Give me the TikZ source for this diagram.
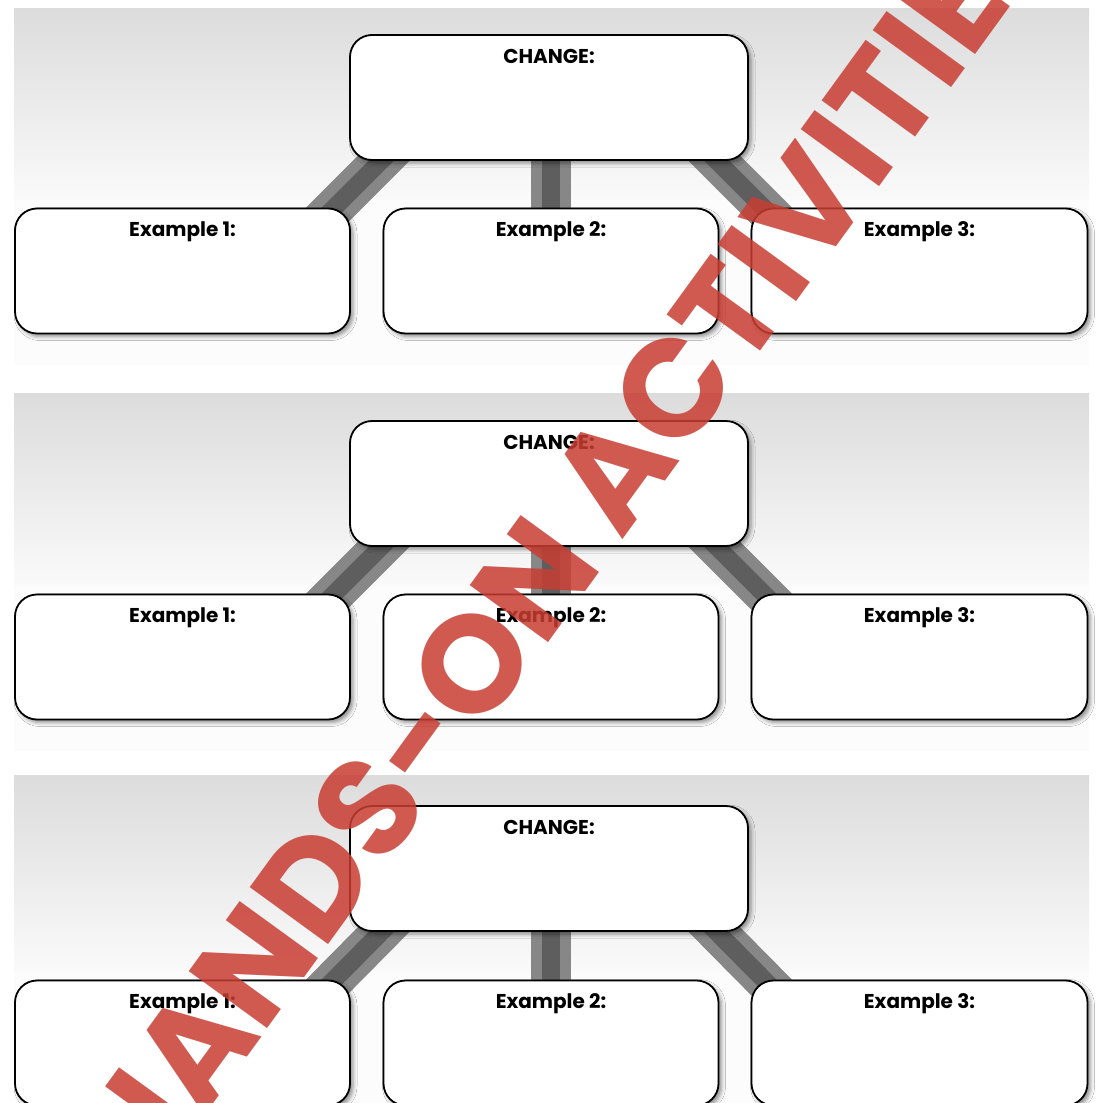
\documentclass[tikz,border=0pt]{standalone}
\usepackage{fontspec}
\setmainfont{Poppins}
\usetikzlibrary{shadows.blur,calc}
\definecolor{bgtop}{HTML}{DCDCDC}
\definecolor{bgbot}{HTML}{FAFAFA}
\definecolor{bglow}{HTML}{FCFCFC}
\definecolor{connlight}{HTML}{878787}
\definecolor{conndark}{HTML}{5E5E5E}
\definecolor{wmred}{RGB}{200,60,50}
\tikzset{
  box/.style={draw=black, line width=1.8pt, fill=white, rounded corners=22pt,
    inner xsep=0pt, inner ysep=0pt, text height=28pt, text depth=97pt,
    minimum height=125pt, font=\bfseries\fontsize{20}{20}\selectfont,
    blur shadow={shadow xshift=3pt, shadow yshift=-3pt, shadow blur radius=4pt, shadow opacity=45}},
  conlight/.style={draw=connlight, line width=40pt},
  condark/.style={draw=conndark, line width=18pt},
  wm/.style={rotate=54, anchor=base, text=wmred, text opacity=0.85, inner sep=0pt,
    font=\bfseries\fontsize{138}{138}\selectfont}
}
\begin{document}
\begin{tikzpicture}[x=1pt,y=-1pt]
\useasboundingbox (0,0) rectangle (1106,1103);
\fill[white] (0,0) rectangle (1106,1103);
\foreach \i/\pt/\ct/\et/\pb in {1/8/35/208/365, 2/393/421/594/751, 3/775/806/980/1140}{
  \shade[top color=bgtop, bottom color=bgbot] (14,\pt) rectangle (1089,\et-8);
  \fill[bglow] (14,\et-8) rectangle (1089,\pb);
  % connector end points (hidden under the boxes)
  \coordinate (cl\i) at (402,\ct+105);
  \coordinate (cm\i) at (551,\ct+105);
  \coordinate (cr\i) at (696,\ct+105);
  \coordinate (el\i) at (314,\et+20);
  \coordinate (em\i) at (551,\et+20);
  \coordinate (er\i) at (784,\et+20);
  \foreach \s in {conlight,condark}{
    \draw[\s] (cl\i) -- (el\i);
    \draw[\s] (cm\i) -- (em\i);
    \draw[\s] (cr\i) -- (er\i);
  }
  \node[box, minimum width=398pt] (c\i) at (549,\ct+62.5) {CHANGE:};
  \node[box, minimum width=335pt] (a\i) at (182.5,\et+63) {Example 1:};
  \node[box, minimum width=335pt] (b\i) at (551,\et+63) {Example 2:};
  \node[box, minimum width=336pt] (d\i) at (919.5,\et+63) {Example 3:};
}
\node[wm] (wm) at (604,566) {HANDS-ON ACTIVITIES};
\end{tikzpicture}
\end{document}
